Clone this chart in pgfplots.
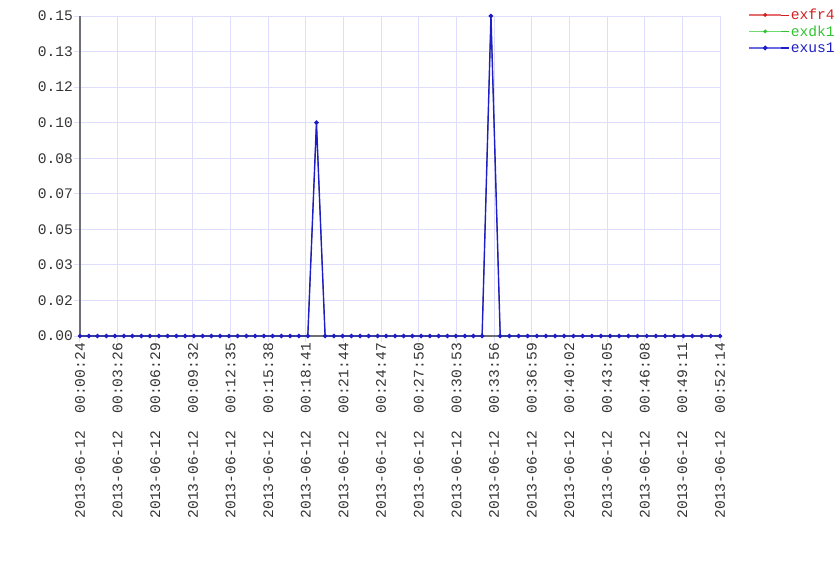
\documentclass[border=0pt]{standalone}
\usepackage{fontspec}
\setmainfont{Liberation Mono}
\setmonofont{Liberation Mono}
\usepackage{pgfplots}
\usepackage{pgfplotstable}
\pgfplotsset{compat=1.18}
\definecolor{gridc}{RGB}{222,222,252}
\definecolor{axc}{RGB}{110,110,118}
\definecolor{exred}{RGB}{210,30,30}
\definecolor{exgreen}{RGB}{50,195,50}
\definecolor{exblue}{RGB}{30,30,200}
\definecolor{lgred}{RGB}{228,110,110}
\definecolor{lggreen}{RGB}{110,220,110}
\definecolor{lgblue}{RGB}{105,105,225}
\newcommand{\lf}{\fontsize{14.6}{16}\selectfont}
\pgfplotstableread{
t v
24 0
67 0
109 0
152 0
194 0
237 0
279 0
322 0
364 0
407 0
450 0
492 0
535 0
577 0
620 0
662 0
705 0
748 0
790 0
833 0
875 0
918 0
960 0
1003 0
1045 0
1088 0
1131 0
1173 0.10
1215 0
1258 0
1300 0
1343 0
1385 0
1427 0
1470 0
1512 0
1555 0
1597 0
1639 0
1682 0
1724 0
1767 0
1809 0
1851 0
1894 0
1936 0
1978 0
2021 0.15
2066 0
2110 0
2155 0
2199 0
2244 0
2288 0
2333 0
2377 0
2422 0
2466 0
2511 0
2555 0
2600 0
2644 0
2689 0
2733 0
2778 0
2822 0
2867 0
2911 0
2956 0
3000 0
3045 0
3089 0
3134 0
}\data
\begin{document}
\begin{tikzpicture}
\useasboundingbox (-80pt,-224pt) rectangle (760pt,336pt);
\begin{axis}[
  at={(0pt,0pt)}, anchor=south west,
  scale only axis, width=640pt, height=320pt,
  xmin=24, xmax=3134, ymin=0, ymax=0.15,
  axis lines=left,
  axis line style={-, draw=axc, line width=1.6pt},
  grid=major,
  major grid style={draw=gridc, line width=1pt},
  tick style={draw=gridc, line width=1pt},
  tick align=outside,
  major tick length=6pt,
  /pgf/number format/assume math mode=true,
  xtick={24,206.94,389.88,572.82,755.76,938.71,1121.65,1304.59,1487.53,1670.47,1853.41,2036.35,2219.29,2402.24,2585.18,2768.12,2951.06,3134},
  xticklabels={2013-06-12~~00:00:24,2013-06-12~~00:03:26,2013-06-12~~00:06:29,2013-06-12~~00:09:32,2013-06-12~~00:12:35,2013-06-12~~00:15:38,2013-06-12~~00:18:41,2013-06-12~~00:21:44,2013-06-12~~00:24:47,2013-06-12~~00:27:50,2013-06-12~~00:30:53,2013-06-12~~00:33:56,2013-06-12~~00:36:59,2013-06-12~~00:40:02,2013-06-12~~00:43:05,2013-06-12~~00:46:08,2013-06-12~~00:49:11,2013-06-12~~00:52:14},
  x tick label style={rotate=90, anchor=east, font=\lf, text=black!80, inner sep=1pt},
  ytick={0,0.0166667,0.0333333,0.05,0.0666667,0.0833333,0.1,0.1166667,0.1333333,0.15},
  yticklabels={0.00,0.02,0.03,0.05,0.07,0.08,0.10,0.12,0.13,0.15},
  y tick label style={font=\lf, text=black!80, inner sep=1pt},
  legend style={at={(1.044,1.029)}, anchor=north west, draw=none, fill=none, font=\lf, inner sep=0pt, row sep=0.5pt, nodes={inner sep=1pt, text depth=2pt, text height=12pt}},
  legend cell align=left,
]
\addplot[exred, line width=0.6pt, mark=*, mark size=1.2pt,
  legend image code/.code={\draw[lgred, line width=1.6pt] (0pt,0pt) -- (32pt,0pt); \fill[exred] (16pt,0pt) circle[radius=1.6pt]; \path (32pt,0pt) -- (40pt,0pt);}] table[x=t,y=v] {\data};
\addlegendentry{\textcolor{exred}{exfr4}}
\addplot[exgreen, line width=0.6pt, mark=*, mark size=1.2pt,
  legend image code/.code={\draw[lggreen, line width=1.6pt] (0pt,0pt) -- (32pt,0pt); \fill[exgreen] (16pt,0pt) circle[radius=1.6pt]; \path (32pt,0pt) -- (40pt,0pt);}] table[x=t,y=v] {\data};
\addlegendentry{\textcolor{exgreen}{exdk1}}
\addplot[exblue, line width=1.4pt, mark=*, mark size=1.5pt,
  legend image code/.code={\draw[lgblue, line width=1.6pt] (0pt,0pt) -- (32pt,0pt); \fill[exblue] (16pt,0pt) circle[radius=1.6pt]; \path (32pt,0pt) -- (40pt,0pt);}] table[x=t,y=v] {\data};
\addlegendentry{\textcolor{exblue}{exus1}}
\end{axis}
\end{tikzpicture}
\end{document}
